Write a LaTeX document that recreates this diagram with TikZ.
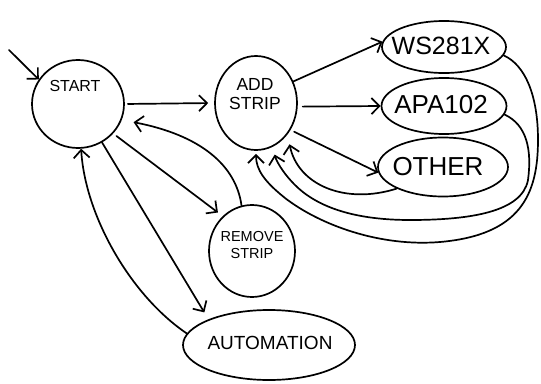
\documentclass[tikz,border=0pt]{standalone}
\usepackage{fontspec}
\setmainfont{Liberation Sans}
\usetikzlibrary{shapes.geometric,arrows.meta}
\begin{document}
\begin{tikzpicture}[x=1pt,y=-1pt,line width=1.7pt,line cap=round,line join=round,
  state/.style={draw,ellipse,inner sep=0pt},
  txt/.style={inner sep=0pt,align=center},
  arr/.style={-{Straight Barb[length=8pt,width=16pt]}}]
\useasboundingbox (0,0) rectangle (541,383);
% states
\node[state,minimum width=92pt,minimum height=88pt] (start) at (78,104) {};
\node[txt,font=\fontsize{16}{16}\selectfont] (startt) at (75,86) {START};
\node[state,minimum width=82pt,minimum height=94pt] (add) at (256,103) {};
\node[txt,font=\fontsize{17.5}{19}\selectfont] (addt) at (255,94) {ADD\\STRIP};
\node[state,minimum width=124pt,minimum height=52pt] (ws) at (444,47) {};
\node[txt,font=\fontsize{25}{25}\selectfont] (wst) at (441,46) {WS281X};
\node[state,minimum width=125pt,minimum height=56pt] (apa) at (444,106) {};
\node[txt,font=\fontsize{26}{26}\selectfont] (apat) at (441,105) {APA102};
\node[state,minimum width=130pt,minimum height=59pt] (other) at (443,167) {};
\node[txt,font=\fontsize{26}{26}\selectfont] (othert) at (438,167) {OTHER};
\node[state,minimum width=86pt,minimum height=92pt] (remove) at (252,251) {};
\node[txt,font=\fontsize{14.5}{17}\selectfont] (removet) at (252,245) {REMOVE\\STRIP};
\node[state,minimum width=172pt,minimum height=70pt] (auto) at (269,345) {};
\node[txt,font=\fontsize{19}{19}\selectfont] (autot) at (270,343) {AUTOMATION};
% connectors
\coordinate (entry) at (9,50);
\draw[arr] (entry) -- (start.148);
\draw[arr,shorten <=3pt,shorten >=6pt] (start.east) -- (add.west);
\draw[arr,shorten >=12pt] (remove.103) .. controls (236,165) and (200,135) .. (start.-20);
\draw[arr,shorten <=4pt,shorten >=6pt] (start.-40) -- (remove.130);
\draw[arr,shorten >=8pt] (start.-58) -- (auto.157);
\draw[arr] (auto.172) .. controls (130,295) and (85,215) .. (start.-86);
\draw[arr] (add.30) -- (ws.175);
\draw[arr,shorten <=5pt] (add.-5) -- (apa.180);
\draw[arr,shorten <=4pt] (add.-38) -- (other.185);
\draw[arr,shorten >=10pt] (other.205) .. controls (345,205) and (298,185) .. (add.-45);
\draw[arr,shorten >=8pt] (apa.-8) .. controls (527,125) and (532,150) .. (528,180)
  .. controls (522,212) and (470,220) .. (410,220)
  .. controls (350,220) and (315,205) .. (295,185)
  .. controls (282,172) and (276,160) .. (add.-69);
\draw[arr,shorten >=3pt] (ws.-8) .. controls (525,65) and (538,95) .. (538,140)
  .. controls (538,195) and (520,235) .. (440,242)
  .. controls (380,247) and (320,225) .. (285,198)
  .. controls (265,182) and (256,170) .. (add.-90);
\end{tikzpicture}
\end{document}
